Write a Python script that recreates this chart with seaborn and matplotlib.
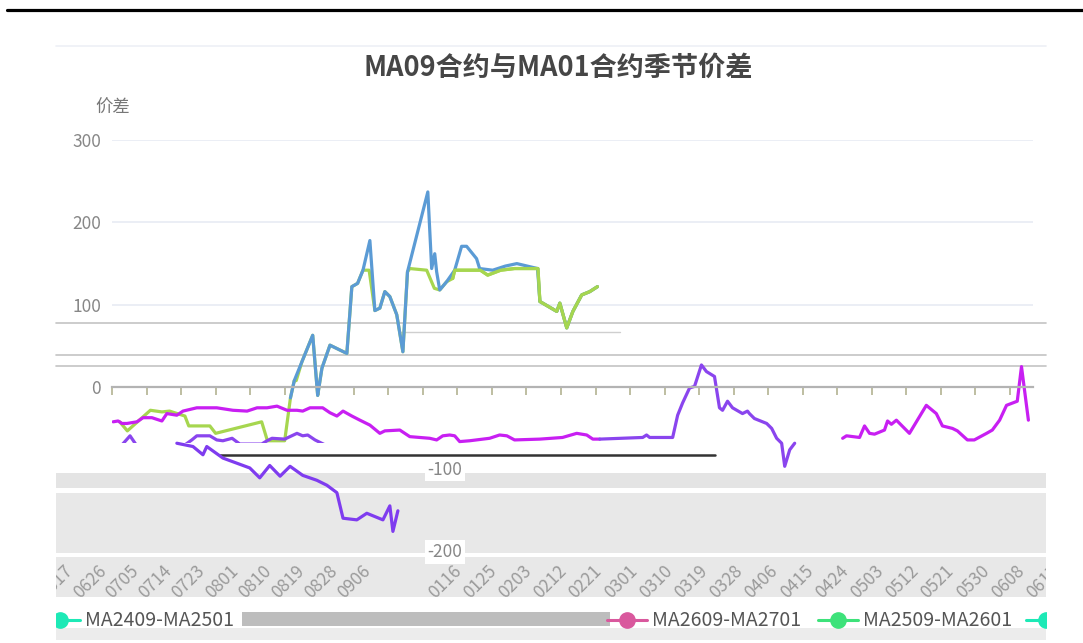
import matplotlib
matplotlib.use("Agg")
import matplotlib.pyplot as plt
import seaborn as sns
import pandas as pd
from matplotlib.patches import Rectangle
from matplotlib.lines import Line2D
from matplotlib.transforms import Bbox, TransformedBbox, blended_transform_factory

# ---------------- data (day index within the season, spread value) ----------------
title = "MA09合约与MA01合约季节价差"
y_name = "价差"
ytick_vals = [-200, -100, 0, 100, 200, 300]
xlabels_a = ["0617", "0626", "0705", "0714", "0723", "0801", "0810", "0819", "0828", "0906"]
xlabels_b = ["0116", "0125", "0203", "0212", "0221", "0301", "0310", "0319", "0328", "0406",
             "0415", "0424", "0503", "0512", "0521", "0530", "0608", "0617"]
legend_labels = ["MA2409-MA2501", "MA2609-MA2701", "MA2509-MA2601", ""]
legend_colors = ["#1de9b6", "#d9589d", "#3de27a", "#1de9b6"]

green_x = [2, 4, 10, 13, 15, 19, 20, 25.5, 27, 39, 40.5, 45, 46.5, 47.5, 48, 49.5, 52.3, 53.6,
           54.7, 56.8, 61.2, 62.5, 64, 65.4, 67, 68.5, 69.8, 71.1, 72.4, 74.2, 75.8, 77, 77.6,
           82, 84, 85.4, 87.2, 88.8, 89.3, 96, 97.9, 101.3, 104.9, 111, 111.5, 115.9, 116.7,
           118.5, 120.1, 122.4, 124.5, 126.5]
green_y = [-42, -53, -28, -30, -29, -35, -47, -47, -56, -42, -65, -65, -13, 8, 8, 31, 63, -10,
           23, 51, 41, 122, 126, 142, 142, 93, 96, 116, 110, 88, 43, 140, 144,
           142, 120, 118, 128, 132, 142, 142, 136, 142, 144, 144, 104, 92, 102,
           72, 92, 112, 116, 122]

blue_x = [46.5, 47.5, 49.5, 52.3, 53.6, 54.7, 56.8, 61.2, 62.5, 64, 65.4, 67.2, 68.5, 69.8,
          71.1, 72.4, 74.2, 75.8, 77, 82.3, 83.3, 84.1, 84.6, 85.4, 87.2, 89.3, 91.1, 92.4,
          95, 95.8, 99.2, 102.5, 105.5, 110.9, 111.5, 115.9, 116.7, 118.5, 120.1, 122.4,
          124.5, 126.5]
blue_y = [-13, 8, 31, 63, -10, 23, 51, 41, 122, 126, 142, 178, 93, 96,
          116, 110, 88, 43, 140, 237, 144, 162, 140, 118, 128, 142, 171, 171,
          156, 144, 142, 147, 150, 144, 104, 92, 102, 72, 92, 112,
          116, 122]

magenta_x = [0.3, 1.6, 2.6, 3.9, 6.5, 8.1, 10.4, 13, 14.3, 16.9, 18.5, 22.1, 27.3, 31.5, 35.2,
             37.8, 40.4, 43, 45.6, 48.2, 49.7, 51.6, 54.9, 56.8, 58.6, 60.2, 62.5, 64.6, 67.2,
             69.8, 71.1, 75, 77.6, 82.8, 84.6, 86.2, 88, 89.3, 90.6, 93.2, 98.4, 101, 102.9,
             104.9, 111.5, 117.4, 121.1, 123.7, 125.3, 127.1]
magenta_y = [-42, -41, -44, -44, -42, -37, -37, -41, -32, -34, -29, -25, -25, -28, -29,
             -25, -25, -23, -28, -28, -29, -25, -25, -31, -35, -29, -35, -40, -46,
             -56, -53, -52, -60, -62, -64, -59, -58, -59, -66, -65, -62, -58, -59,
             -64, -63, -61, -56, -58, -63, -63]

magenta2_x = [190.4, 191.4, 194.8, 196.1, 197.4, 198.7, 201.3, 202.1, 203.1, 204.4, 207.8,
              212.2, 214.8, 216.4, 219, 220.3, 222.9, 224.7, 227.9, 229.4, 231.3, 233.1,
              235.9, 237, 238.8]
magenta2_y = [-62, -59, -61, -47, -56, -57, -52, -41, -45, -40, -56,
              -22, -32, -47, -50, -53, -64, -64, -56, -52, -40, -22,
              -17, 25, -40]

violet_x = [127.1, 138.3, 139.3, 140.1, 146.1, 147.4, 148.7, 150.5, 151.8, 153.6, 154.9, 157,
            158.3, 159.1, 160.4, 161.7, 164.3, 165.6, 166.1, 167.4, 170.6, 171.9, 173.2,
            174.5, 175.3, 176.6, 177.9]
violet_y = [-63, -61, -58, -61, -61, -34, -19, -1, 1, 27, 19, 13,
            -25, -28, -17, -25, -32, -29, -32, -38, -44, -50, -62,
            -68, -96, -76, -68]

violet_a_x = [2.6, 4.7, 6.3, 19, 20.8, 22.1, 25.5, 27.3, 28.9, 31.3, 33.3, 39, 40.4, 41.7,
              45, 48.2, 49.7, 51, 52.9, 55.5]
violet_a_y = [-70, -59, -70, -70, -64, -59, -59, -64, -65, -62, -69, -69, -65, -62,
              -63, -56, -59, -58, -64, -70]

violet_b_x = [16.9, 21.1, 23.7, 24.7, 28.9, 35.9, 38.5, 41.1, 43.8, 46.4, 49.7, 53.4, 56,
              58.6, 60.2, 63.8, 66.4, 70.6, 72.4, 73.2, 74.5]
violet_b_y = [-68, -72, -82, -72, -86, -98, -110, -95, -108, -96, -107, -113, -119,
              -128, -159, -161, -153, -161, -144, -175, -150]

# ---------------- figure ----------------
sns.set_theme(style="white")
plt.rcParams["font.family"] = ["Noto Sans CJK SC", "DejaVu Sans"]

W, H = 1083, 643
fig = plt.figure(figsize=(W / 100, H / 100), dpi=100)
fig.patch.set_facecolor("white")


def fx(px):
    return px / W


def fy(py):
    return 1 - py / H


def rect(x0, y0, x1, y1, color):
    fig.patches.append(Rectangle((fx(x0), fy(y1)), fx(x1) - fx(x0), fy(y0) - fy(y1),
                                 transform=fig.transFigure, facecolor=color,
                                 edgecolor="none", zorder=-2))


def fline(x0, x1, y, color, lw):
    fig.add_artist(Line2D([fx(x0), fx(x1)], [fy(y), fy(y)], transform=fig.transFigure,
                          color=color, lw=lw, zorder=-1))


# background bands of the screenshot
rect(56, 473, 1046, 488, "#e4e4e4")
rect(56, 493, 1046, 553, "#e8e8e8")
rect(56, 557, 1046, 597, "#e8e8e8")
rect(56, 628, 1046, 640, "#ececec")
rect(242, 612, 610, 626, "#bdbdbd")
fline(7, 1083, 9.5, "black", 2.3)
fline(56, 1046, 46, "#eef0f6", 1.2)
for yy in (323, 355, 366):
    fline(56, 1046, yy, "#c4c4c4", 1.2)
fline(400, 620, 332, "#cfcfcf", 1.0)
fline(220, 715, 455, "#333333", 1.8)

ax = fig.add_axes([fx(112), fy(552), fx(1033) - fx(112), fy(140) - fy(552)])
ax.set_facecolor("none")
ax.set_xlim(0, 240)
ax.set_ylim(-200, 300)

for v in [t for t in ytick_vals if t > 0]:
    ax.axhline(v, color="#e6e9f3", lw=1.1, zorder=0)

lw = 2.3
segments = [
    (green_x, green_y, "#a6d64f", None),
    (blue_x, blue_y, "#5b9bd5", None),
    (green_x[37:], green_y[37:], "#a6d64f", None),
    (violet_a_x, violet_a_y, "#8a45ee", -68),
    (violet_b_x, violet_b_y, "#7f3cef", None),
    (magenta_x, magenta_y, "#c81ff2", None),
    (violet_x, violet_y, "#8a45ee", None),
    (magenta2_x, magenta2_y, "#c81ff2", None),
]
for xs, ys, c, cut in segments:
    df = pd.DataFrame({"x": xs, "y": ys})
    sns.lineplot(data=df, x="x", y="y", ax=ax, color=c, lw=lw, sort=False,
                 estimator=None, legend=False)
    if cut is not None:
        clip_rect = Rectangle((0, cut), 240, 300 - cut, transform=ax.transData,
                              facecolor="none", edgecolor="none")
        ax.lines[-1].set_clip_path(clip_rect)

ax.set_xlabel("")
ax.set_ylabel("")
for s in ("top", "right", "left"):
    ax.spines[s].set_visible(False)
ax.spines["bottom"].set_position(("data", 0))
ax.spines["bottom"].set_color("#b3b3b3")
ax.spines["bottom"].set_linewidth(1.6)
ax.set_xticks(range(0, 241, 9))
ax.tick_params(axis="x", length=6, width=1.3, color="#b9b99a", direction="out",
               bottom=True, labelbottom=False)

ax.set_yticks(ytick_vals)
ax.set_yticklabels([str(v) if v >= 0 else "" for v in ytick_vals])
ax.tick_params(axis="y", length=0, pad=8, labelsize=12.5, labelcolor="#878787")
# negative tick labels sit mid-chart in the reference
for v in [t for t in ytick_vals if t < 0]:
    ax.text((445 - 112) / (1033 - 112), v, str(v),
            transform=blended_transform_factory(ax.transAxes, ax.transData),
            ha="center", va="center", fontsize=12.5, color="#878787",
            bbox=dict(fc="white", ec="none", pad=2))

# x tick labels (rotated)
clip = TransformedBbox(Bbox.from_extents(fx(56), 0, fx(1046), 1), fig.transFigure)
label_pos = [64 + 33 * k for k in range(len(xlabels_a))] + \
            [452 + 35.2 * k for k in range(len(xlabels_b))]
for px, lab in zip(label_pos, xlabels_a + xlabels_b):
    t = fig.text(fx(px), fy(562), lab, rotation=45, rotation_mode="anchor",
                 ha="right", va="top", fontsize=12.5, color="#9a9a9a")
    t.set_clip_box(clip)
    t.set_clip_on(True)

# title and axis name
fig.text(fx(558), fy(68), title, ha="center", va="center", fontsize=19.5,
         fontweight="bold", color="#464646")
fig.text(fx(113), fy(108), y_name, ha="center", va="center", fontsize=12.5, color="#777777")

# legend
leg_marker_x = [60, 627, 838, 1046]
for mx, lab, c in zip(leg_marker_x, legend_labels, legend_colors):
    ln = Line2D([fx(mx - 20), fx(mx + 20)], [fy(620), fy(620)], transform=fig.transFigure,
                color=c, lw=2.2)
    mk = Line2D([fx(mx)], [fy(620)], transform=fig.transFigure, color=c, marker="o",
                markersize=11, lw=0)
    for a in (ln, mk):
        a.set_clip_box(clip)
        a.set_clip_on(True)
        fig.add_artist(a)
    if lab:
        fig.text(fx(mx + 25), fy(620), lab, ha="left", va="center", fontsize=14,
                 color="#555555")

fig.savefig("out.png", dpi=100)
